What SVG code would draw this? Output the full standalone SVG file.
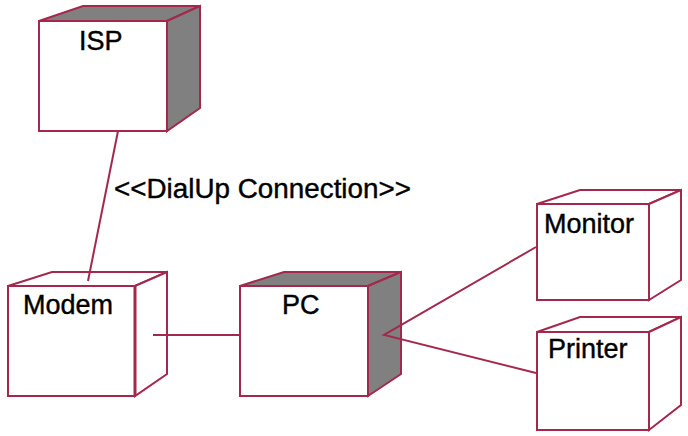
<svg xmlns="http://www.w3.org/2000/svg" width="688" height="436" viewBox="0 0 688 436">
<style>
.e{stroke:#a3284c;stroke-width:2;stroke-linejoin:miter;fill:none}
.f{fill:#ffffff;stroke:#a3284c;stroke-width:2}
.g{fill:#808080;stroke:#a3284c;stroke-width:2}
.w{fill:#ffffff;stroke:#a3284c;stroke-width:2}
.t{font-family:"Liberation Sans",Arial,sans-serif;font-size:27px;fill:#000;stroke:#000;stroke-width:0.4}
</style>
<rect width="688" height="436" fill="#ffffff"/>
<g id="ISP">
<polygon class="g" points="39,21 83,6 200,6 167,21"/>
<polygon class="g" points="167,21 200,6 200,108 167,131"/>
<rect class="f" x="39" y="21" width="128" height="110"/>
<text class="t" x="79" y="50">ISP</text>
</g>
<g id="Modem">
<polygon class="w" points="8,286 52,272 167,272 135,286"/>
<polygon class="w" points="135,286 167,272 167,374 135,396"/>
<rect class="f" x="8" y="286" width="127" height="110"/>
<line x1="135" y1="286" x2="135" y2="396" stroke="#a3284c" stroke-width="3"/>
<text class="t" x="23" y="314">Modem</text>
</g>
<g id="PC">
<polygon class="g" points="240,286 284,272 401,272 368,286"/>
<polygon class="g" points="368,286 401,272 401,374 368,396"/>
<rect class="f" x="240" y="286" width="128" height="110"/>
<text class="t" x="282" y="314">PC</text>
</g>
<g id="Monitor">
<polygon class="w" points="537,204 580,190 681,190 649,204"/>
<polygon class="w" points="649,204 681,190 681,280 649,300"/>
<rect class="f" x="537" y="204" width="112" height="96"/>
<text class="t" x="544" y="233">Monitor</text>
</g>
<g id="Printer">
<polygon class="w" points="537,332 580,317 681,317 649,332"/>
<polygon class="w" points="649,332 681,317 681,405 649,430"/>
<rect class="f" x="537" y="332" width="112" height="98"/>
<text class="t" x="548" y="358">Printer</text>
</g>
<g id="connectors" class="e">
<line x1="118" y1="131" x2="88" y2="281"/>
<line x1="153" y1="335" x2="240" y2="335"/>
<polyline points="536,247 384,335 536,373"/>
</g>
<text class="t" x="114" y="198" textLength="297" lengthAdjust="spacingAndGlyphs">&lt;&lt;DialUp Connection&gt;&gt;</text>
</svg>
